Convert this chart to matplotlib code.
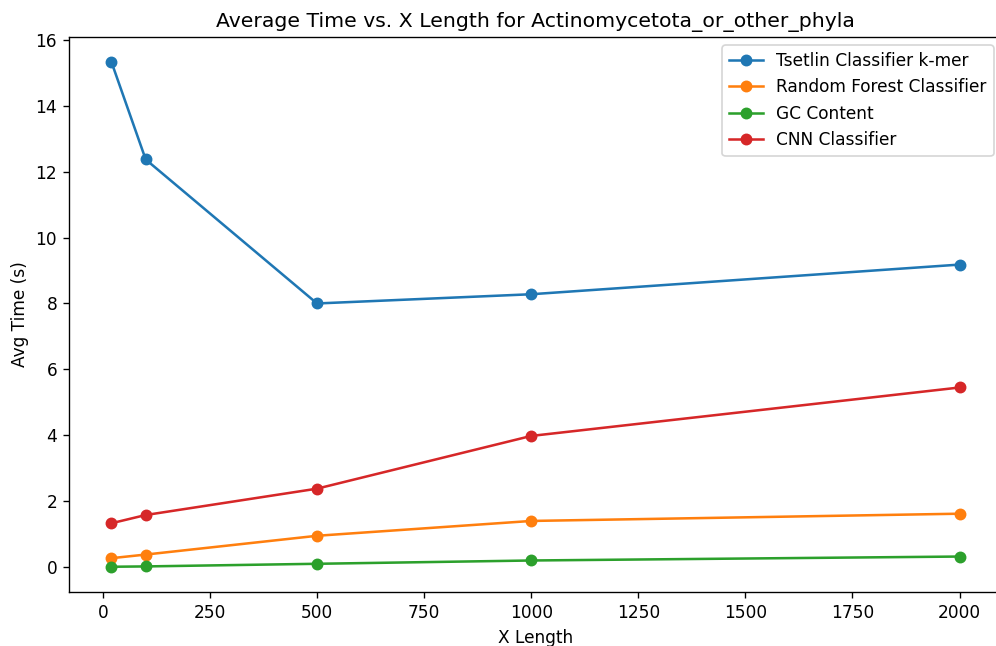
import matplotlib
matplotlib.use("Agg")
import matplotlib.pyplot as plt

x_lengths = [20, 100, 500, 1000, 2000]

tsetlin_times = [15.33, 12.37, 8.00, 8.28, 9.18]
rf_times = [0.27, 0.38, 0.95, 1.40, 1.62]
gc_times = [0.01, 0.02, 0.10, 0.20, 0.32]
cnn_times = [1.33, 1.58, 2.38, 3.98, 5.45]

series = [
    ("Tsetlin Classifier k-mer", tsetlin_times),
    ("Random Forest Classifier", rf_times),
    ("GC Content", gc_times),
    ("CNN Classifier", cnn_times),
]

dpi = 122
fig, ax = plt.subplots(figsize=(996 / dpi, 646 / dpi), dpi=dpi)
# the original is cropped a little on the right, so the axes run past the edge
fig.subplots_adjust(left=0.0693, right=1.006, top=0.9432, bottom=0.0836)
ax.spines['right'].set_visible(False)

for name, vals in series:
    ax.plot(x_lengths, vals, marker='o', label=name)

ax.set_title("Average Time vs. X Length for Actinomycetota_or_other_phyla")
ax.set_xlabel("X Length")
ax.set_ylabel("Avg Time (s)")
ax.legend(loc='upper right')

plt.savefig("out.png")
